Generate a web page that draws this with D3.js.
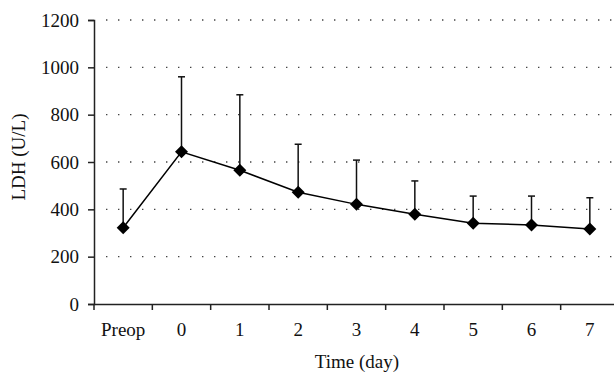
<!DOCTYPE html>
<html>
<head>
<meta charset="utf-8">
<script src="https://cdn.jsdelivr.net/npm/d3@7"></script>
<style>
  body { margin: 0; background: #fff; }
  svg text { font-family: "Liberation Serif", "DejaVu Serif", serif; fill: #111; }
</style>
</head>
<body>
<svg id="chart" width="614" height="375"></svg>
<script>
const categories = ['Preop', '0', '1', '2', '3', '4', '5', '6', '7'];
const ldhMean = [322, 643, 565, 472, 421, 379, 341, 334, 317];
const ldhUpper = [486, 960, 884, 675, 608, 520, 456, 456, 449];
const yTicks = [0, 200, 400, 600, 800, 1000, 1200];

const svg = d3.select('#chart');
const margin = { left: 94, top: 20, bottom: 71 };
const height = +svg.attr('height');
const fontFamily = '"Liberation Serif", serif';
const fontSize = '19px';

const x = d3.scaleBand()
  .domain(categories)
  .range([margin.left, 619]);

const y = d3.scaleLinear()
  .domain([0, 1200])
  .range([height - margin.bottom, margin.top]);

// dotted grid
svg.append('g')
  .selectAll('line')
  .data(yTicks.filter(d => d > 0))
  .enter().append('line')
  .attr('x1', margin.left + 12)
  .attr('x2', 614)
  .attr('y1', d => y(d))
  .attr('y2', d => y(d))
  .attr('stroke', '#444')
  .attr('stroke-width', 1.4)
  .attr('stroke-dasharray', '1.4,10.6');

// y axis
const yAxis = svg.append('g')
  .attr('transform', `translate(${margin.left},0)`)
  .call(d3.axisLeft(y).tickValues(yTicks).tickFormat(d3.format('d')).tickSize(6).tickPadding(9));
yAxis.select('.domain').attr('stroke', '#222').attr('stroke-width', 1.5);
yAxis.selectAll('.tick line').attr('stroke', '#222').attr('stroke-width', 1.5);
yAxis.selectAll('text').style('font-size', fontSize).style('font-family', fontFamily);

// x axis with ticks at band edges
const xAxis = svg.append('g')
  .attr('transform', `translate(0,${y(0)})`)
  .call(d3.axisBottom(x).tickSize(0).tickPadding(19));
xAxis.select('.domain').attr('stroke', '#222').attr('stroke-width', 1.5);
xAxis.selectAll('text').style('font-size', fontSize).style('font-family', fontFamily);
xAxis.selectAll('line.edge')
  .data(categories)
  .enter().append('line')
  .attr('class', 'edge')
  .attr('x1', d => x(d))
  .attr('x2', d => x(d))
  .attr('y1', 0)
  .attr('y2', 6)
  .attr('stroke', '#222')
  .attr('stroke-width', 1.5);

const cx = d => x(d) + x.bandwidth() / 2;

// error bars (upper only)
const err = svg.append('g');
err.selectAll('line.bar')
  .data(categories)
  .enter().append('line')
  .attr('class', 'bar')
  .attr('x1', cx).attr('x2', cx)
  .attr('y1', (d, i) => y(ldhMean[i]))
  .attr('y2', (d, i) => y(ldhUpper[i]))
  .attr('stroke', '#111')
  .attr('stroke-width', 1.5);
err.selectAll('line.cap')
  .data(categories)
  .enter().append('line')
  .attr('class', 'cap')
  .attr('x1', d => cx(d) - 3.5).attr('x2', d => cx(d) + 3.5)
  .attr('y1', (d, i) => y(ldhUpper[i]))
  .attr('y2', (d, i) => y(ldhUpper[i]))
  .attr('stroke', '#111')
  .attr('stroke-width', 1.5);

// mean line
const line = d3.line()
  .x((d, i) => cx(categories[i]))
  .y(d => y(d));
svg.append('path')
  .datum(ldhMean)
  .attr('d', line)
  .attr('fill', 'none')
  .attr('stroke', '#000')
  .attr('stroke-width', 1.5);

// diamond markers
const r = 6.5;
svg.append('g')
  .selectAll('path')
  .data(ldhMean)
  .enter().append('path')
  .attr('transform', (d, i) => `translate(${cx(categories[i])},${y(d)})`)
  .attr('d', `M0,${-r}L${r},0L0,${r}L${-r},0Z`)
  .attr('fill', '#000');

// axis titles
svg.append('text')
  .attr('x', 357)
  .attr('y', 368)
  .attr('text-anchor', 'middle')
  .style('font-size', fontSize)
  .text('Time (day)');

svg.append('text')
  .attr('transform', 'translate(25,157) rotate(-90)')
  .attr('text-anchor', 'middle')
  .style('font-size', fontSize)
  .text('LDH (U/L)');
</script>
</body>
</html>
